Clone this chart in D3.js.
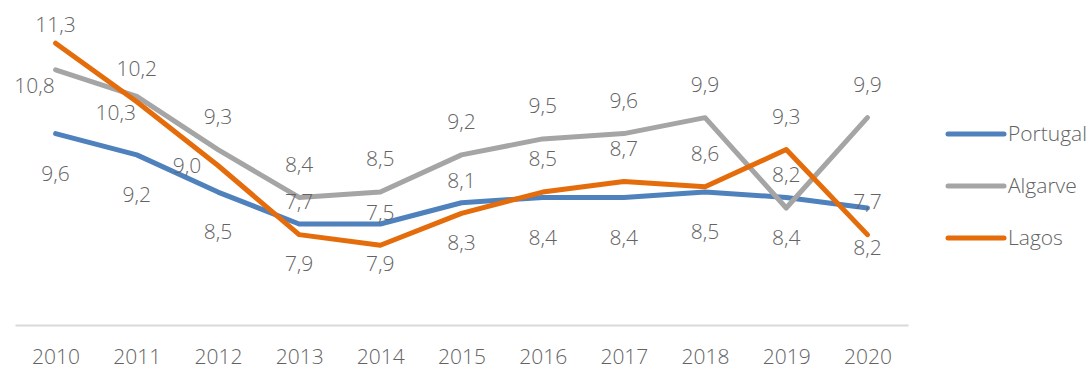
<!DOCTYPE html>
<html>
<head>
<meta charset="utf-8">
<script src="https://cdn.jsdelivr.net/npm/d3@7"></script>
<style>
body { margin: 0; background: #fff; }
svg { display: block; font-family: "Open Sans", sans-serif; font-weight: 300; }
.axis path { stroke: #d9d9d9; stroke-width: 2; }
.axis text { fill: #636363; font-size: 21px; font-family: "Open Sans", sans-serif; font-weight: 300; }
.lbl { fill: #636363; font-size: 21px; }
</style>
</head>
<body>
<svg width="1092" height="371"></svg>
<script>
var years = [ "2010", "2011", "2012", "2013", "2014", "2015", "2016", "2017", "2018", "2019", "2020" ];
var series = [ "Portugal", "Algarve", "Lagos" ];
var portugal = [ 9.6, 9.2, 8.5, 7.9, 7.9, 8.3, 8.4, 8.4, 8.5, 8.4, 8.2 ];
var algarve = [ 10.8, 10.3, 9.3, 8.4, 8.5, 9.2, 9.5, 9.6, 9.9, 8.2, 9.9 ];
var lagos = [ 11.3, 10.2, 9.0, 7.7, 7.5, 8.1, 8.5, 8.7, 8.6, 9.3, 7.7 ];
var yDomain = [ 6, 12 ];

var colors = [ "#4f81bd", "#a5a5a5", "#e46c0a" ];
// label placement per series: b = below, a = above, l = left, c = custom
var placing = [
	"bbbbbbbbbbb",
	"ccaaaaaaaaa",
	"aalaaaaaaaa"
];

var svg = d3.select("svg");
var xScale = d3.scalePoint().domain(years).range([ 15, 908 ]).padding(0.5);
var yScale = d3.scaleLinear().domain(yDomain).range([ 325, 6 ]);

svg.append("g").attr("class", "axis").attr("transform", "translate(0,325)")
		.call(d3.axisBottom(xScale).tickSize(0).tickSizeOuter(0).tickPadding(24))
		.selectAll(".tick line").remove();

var data = [ portugal, algarve, lagos ].map(function(vals) {
	return vals.map(function(v, i) {
		return { x : years[i], y : v };
	});
});

var line = d3.line().x(function(d) {
	return xScale(d.x);
}).y(function(d) {
	return yScale(d.y);
});

svg.append("g").selectAll("path").data(data).enter().append("path")
		.attr("d", line).attr("fill", "none")
		.attr("stroke", function(d, i) { return colors[i]; })
		.attr("stroke-width", 5).attr("stroke-linecap", "round")
		.attr("stroke-linejoin", "round");

var fmt = function(v) {
	return d3.format(".1f")(v).replace(".", ",");
};

var labels = svg.append("g");
data.forEach(function(pts, s) {
	pts.forEach(function(d, i) {
		var px = xScale(d.x), py = yScale(d.y);
		var p = placing[s][i], dx = 0, dy = 0;
		if (p == "b") dy = 40;
		else if (p == "a") dy = -33;
		else if (p == "l") dx = -31;
		else if (p == "c") { dx = -21; dy = 16; }
		var ty = Math.max(py + dy, 25);
		labels.append("text").attr("class", "lbl").attr("x", px + dx)
				.attr("y", ty).attr("dy", "0.35em").attr("text-anchor", "middle")
				.text(fmt(d.y));
	});
});

var legend = svg.append("g").selectAll("g").data(series).enter().append("g")
		.attr("transform", function(d, i) {
			return "translate(948," + (134 + i * 52) + ")";
		});
legend.append("line").attr("x1", 0).attr("x2", 56)
		.attr("stroke", function(d, i) { return colors[i]; })
		.attr("stroke-width", 5).attr("stroke-linecap", "round");
legend.append("text").attr("class", "lbl").attr("x", 60).attr("dy", "0.35em")
		.text(function(d) { return d; });
</script>
</body>
</html>
